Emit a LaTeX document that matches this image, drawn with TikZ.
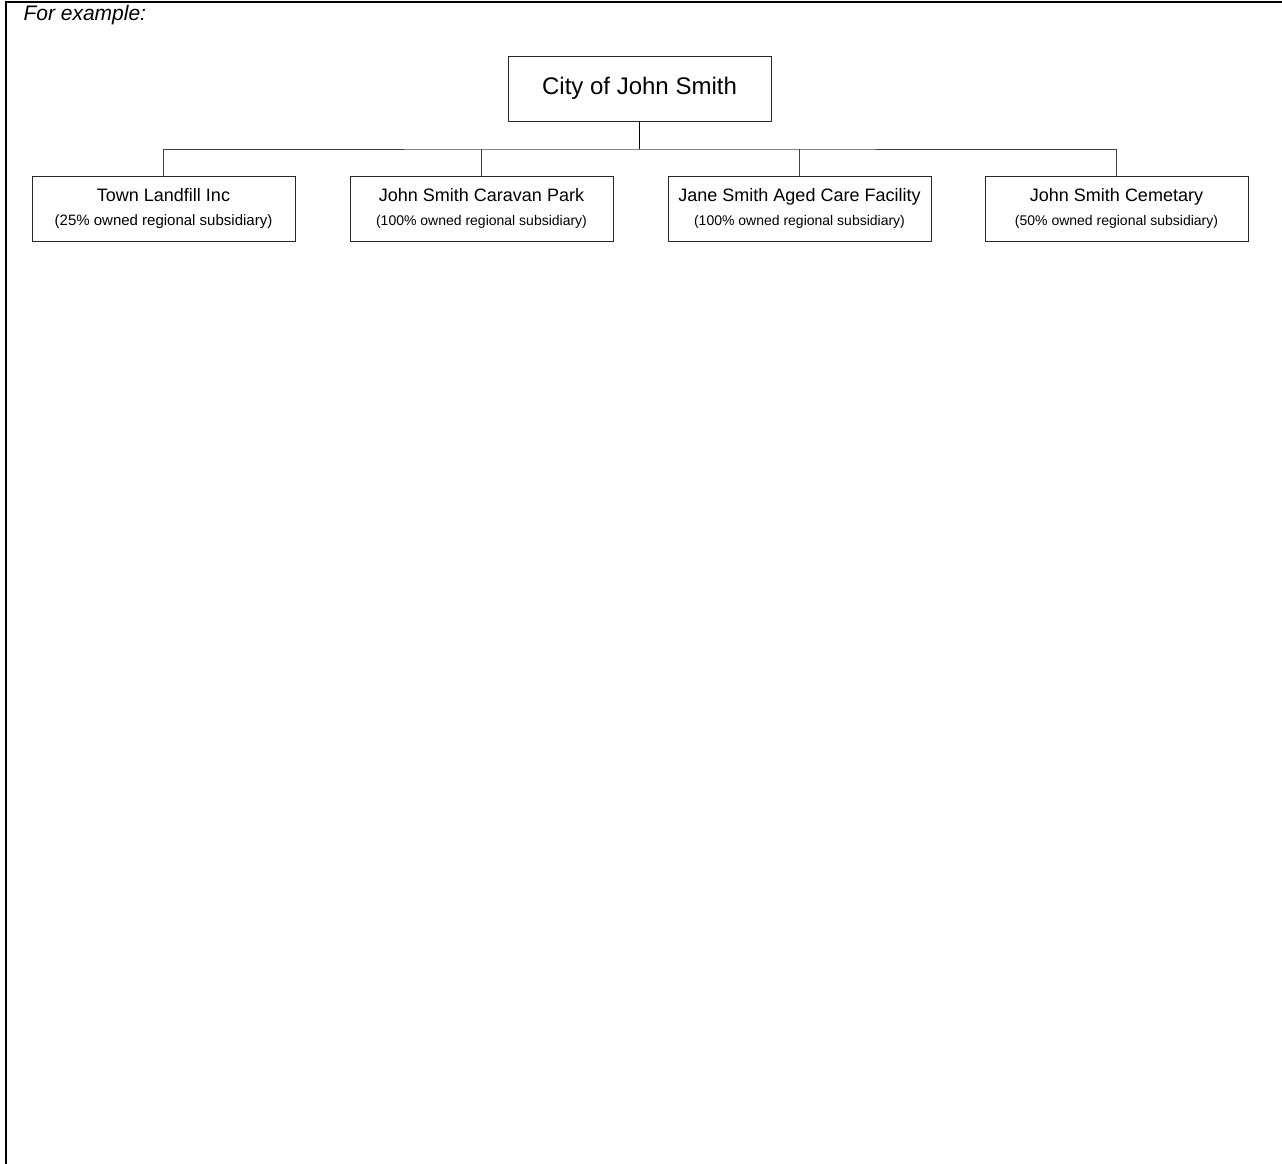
\documentclass[tikz,border=0pt]{standalone}
\usepackage{fontspec}
\setmainfont{Liberation Sans}
\usetikzlibrary{positioning}

\begin{document}
\begin{tikzpicture}[x=1pt,y=-1pt,
	orgbox/.style={draw=black!85, line width=0.9pt, minimum width=263, minimum height=65, inner sep=0pt, align=center},
	subnote/.style={font=\fontsize{14.5}{17}\selectfont},
	link/.style={draw=black!75, line width=1pt}]
	\tikzstyle{every node}=[font=\fontsize{18}{22}\selectfont]
	\useasboundingbox (0,0) rectangle (1282,1164);
	
	% frame
	\draw[line width=1.6pt] (6,1164) -- (6,2) -- (1282,2);
	\node[anchor=base west, font=\fontsize{21}{24}\selectfont\itshape] (title) at (20,21) {For example:};
	
	% top of the tree
	\node[orgbox, minimum width=263, font=\fontsize{24}{28}\selectfont] (city) at (639.5,88.5) {City of John Smith};
	
	% subsidiaries
	\node[orgbox] (landfill) at (163.5,208.5) {Town Landfill Inc\\[2pt]{\fontsize{15}{17}\selectfont (25\% owned regional subsidiary)}};
	\node[orgbox] (caravan) at (481.5,208.5) {John Smith Caravan Park\\[2pt]{\fontsize{14}{17}\selectfont (100\% owned regional subsidiary)}};
	\node[orgbox] (agedcare) at (799.5,208.5) {Jane Smith Aged Care Facility\\[2pt]{\fontsize{14}{17}\selectfont (100\% owned regional subsidiary)}};
	\node[orgbox] (cemetary) at (1116.5,208.5) {John Smith Cemetary\\[2pt]{\fontsize{14}{17}\selectfont (50\% owned regional subsidiary)}};
	
	\coordinate (bus) at (639.5,149);
	\draw[link, line width=1.5pt, draw=black] (city.south) -- (bus);
	\draw[link] (landfill.north) |- (bus) -| (cemetary.north);
	\draw[link] (caravan.north) -- (caravan.north |- bus);
	\draw[link] (agedcare.north) -- (agedcare.north |- bus);
	
\end{tikzpicture}
\end{document}
